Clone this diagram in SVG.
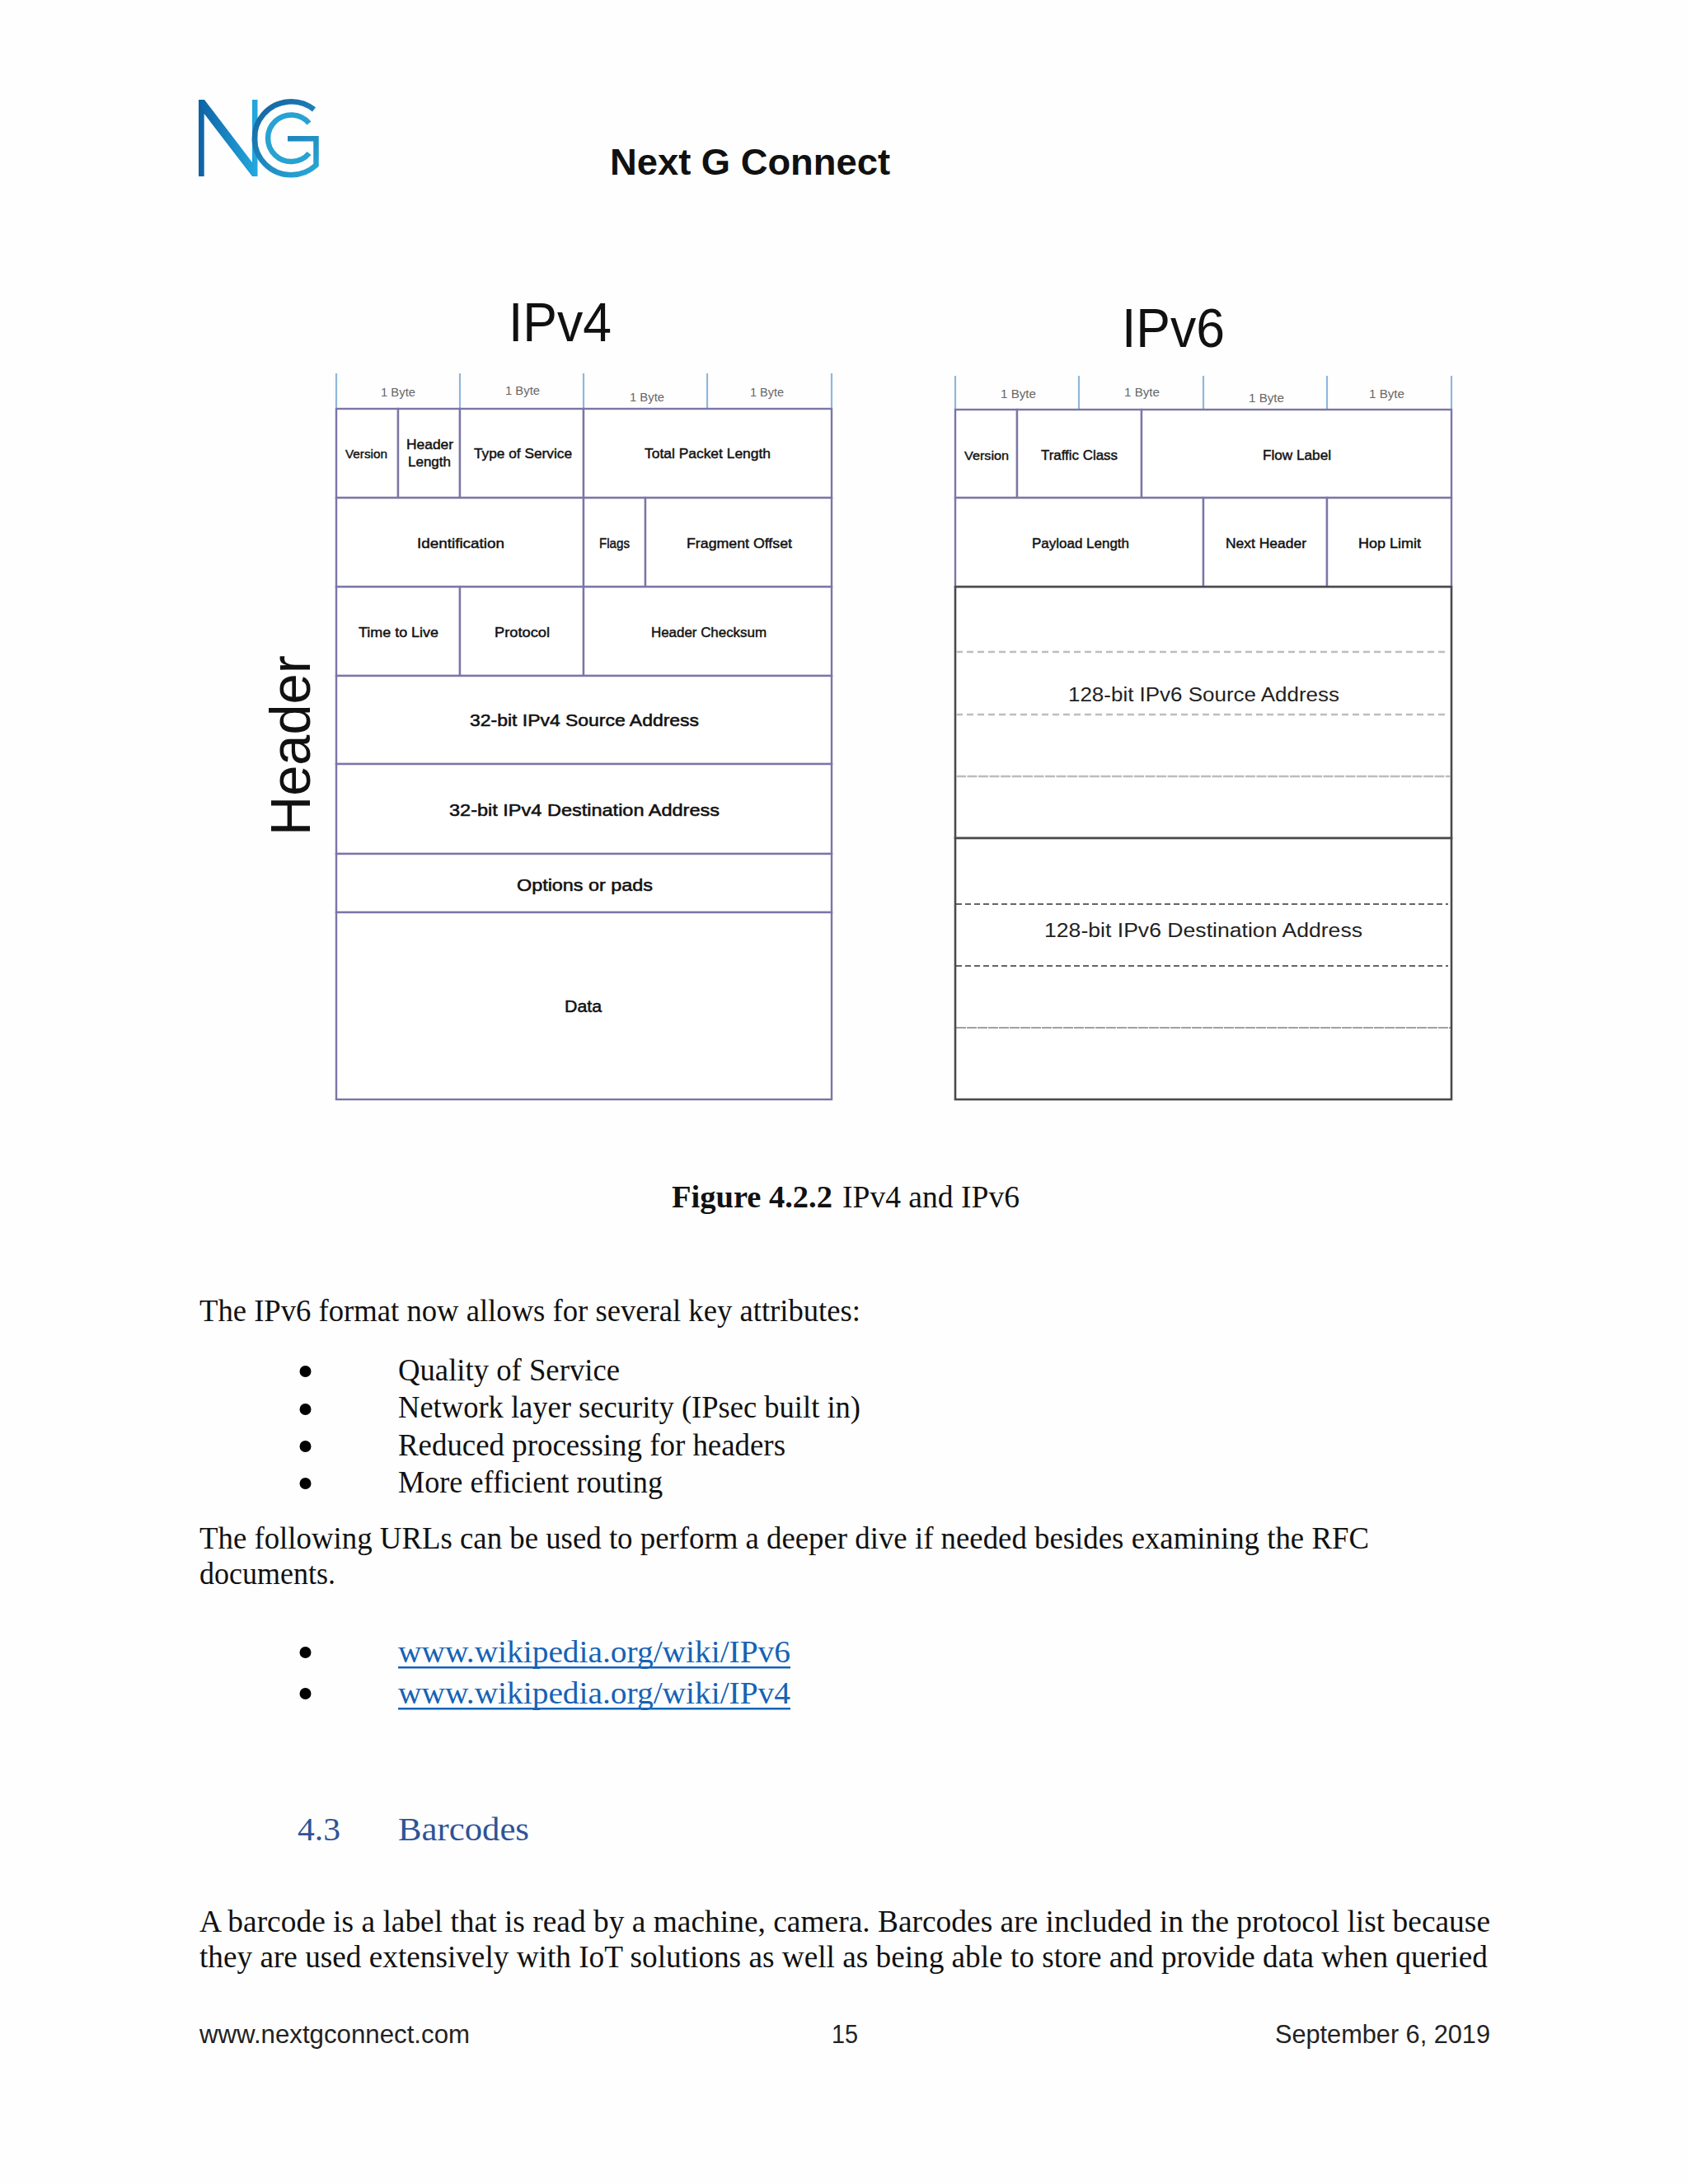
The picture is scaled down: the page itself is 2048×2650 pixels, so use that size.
<svg xmlns="http://www.w3.org/2000/svg" width="2048" height="2650" viewBox="0 0 2048 2650">
<style>
text{font-family:"Liberation Sans",Arial,sans-serif;fill:#111}
.t{font-family:"Liberation Serif","Times New Roman",serif;font-size:38px;fill:#111}
.f{font-size:32px;fill:#222}
.c{fill:#fff;stroke:#7a76a6;stroke-width:2.4}
.k{fill:#fff;stroke:#4a4a4e;stroke-width:2.6}
.l{font-size:17px;stroke:#111;stroke-width:.45}
.m{font-size:15px;stroke:#111;stroke-width:.4}
.a{font-size:21px;stroke:#111;stroke-width:.55}
.b{font-size:14px;fill:#666}
.by{stroke:#8fb7dc;stroke-width:2.2;fill:none}
.h6{font-size:23px;fill:#222}
.n{fill:none;stroke-width:6.5}
</style>
<defs>
<linearGradient id="gn" gradientUnits="userSpaceOnUse" x1="241" y1="0" x2="312" y2="0"><stop offset="0" stop-color="#0f62a3"/><stop offset="1" stop-color="#22a9e0"/></linearGradient>
<linearGradient id="gc" gradientUnits="userSpaceOnUse" x1="310" y1="120" x2="385" y2="215"><stop offset="0" stop-color="#12609f"/><stop offset="1" stop-color="#29a9d8"/></linearGradient>
</defs>
<rect width="2048" height="2650" fill="#fefefe"/>
<g id="logo">
<path d="M241 121H248L306 197V121H312.500V214H306L247.700 138V214H241Z" fill="url(#gn)"/>
<path class="n" stroke="url(#gc)" d="M381 132.900A44.500 44.500 0 1 0 383.500 200.400V168.300H349"/>
<path class="n" stroke="#27a2d2" d="M375 149.500A28.300 28.300 0 1 0 375 186"/>
</g>
<text id="page-title" x="740" y="212" font-size="44" font-weight="700" textLength="340" lengthAdjust="spacingAndGlyphs">Next G Connect</text>
<text id="title-ipv4" x="617" y="414" font-size="66" textLength="125" lengthAdjust="spacingAndGlyphs">IPv4</text>
<text id="title-ipv6" x="1361" y="421" font-size="66" textLength="125" lengthAdjust="spacingAndGlyphs">IPv6</text>
<text id="side-header" transform="translate(376 1014) rotate(-90)" font-size="68" textLength="219" lengthAdjust="spacingAndGlyphs">Header</text>

<g id="ipv4-bytes">
<path class="by" d="M408 453V496M558 453V496M708 453V496M858 453V496M1009 453V496"/>
<text class="b" x="462" y="481" textLength="42" lengthAdjust="spacingAndGlyphs">1 Byte</text>
<text class="b" x="613" y="479" textLength="42" lengthAdjust="spacingAndGlyphs">1 Byte</text>
<text class="b" x="764" y="487" textLength="42" lengthAdjust="spacingAndGlyphs">1 Byte</text>
<text class="b" x="910" y="481" textLength="41" lengthAdjust="spacingAndGlyphs">1 Byte</text>
</g>
<g id="ipv4-version"><rect class="c" x="408" y="496" width="75" height="108"/><text class="m" x="419" y="556" textLength="51" lengthAdjust="spacingAndGlyphs">Version</text></g>
<g id="ipv4-header-length"><rect class="c" x="483" y="496" width="75" height="108"/><text class="l" x="493" y="545" textLength="57" lengthAdjust="spacingAndGlyphs">Header</text><text class="l" x="495" y="566" textLength="52" lengthAdjust="spacingAndGlyphs">Length</text></g>
<g id="ipv4-tos"><rect class="c" x="558" y="496" width="150" height="108"/><text class="l" x="575" y="556" textLength="119" lengthAdjust="spacingAndGlyphs">Type of Service</text></g>
<g id="ipv4-total-length"><rect class="c" x="708" y="496" width="301" height="108"/><text class="l" x="782" y="556" textLength="153" lengthAdjust="spacingAndGlyphs">Total Packet Length</text></g>
<g id="ipv4-identification"><rect class="c" x="408" y="604" width="300" height="108"/><text class="l" x="506" y="665" textLength="106" lengthAdjust="spacingAndGlyphs">Identification</text></g>
<g id="ipv4-flags"><rect class="c" x="708" y="604" width="75" height="108"/><text class="l" x="727" y="665" textLength="37" lengthAdjust="spacingAndGlyphs">Flags</text></g>
<g id="ipv4-fragment"><rect class="c" x="783" y="604" width="226" height="108"/><text class="l" x="833" y="665" textLength="128" lengthAdjust="spacingAndGlyphs">Fragment Offset</text></g>
<g id="ipv4-ttl"><rect class="c" x="408" y="712" width="150" height="108"/><text class="l" x="435" y="773" textLength="97" lengthAdjust="spacingAndGlyphs">Time to Live</text></g>
<g id="ipv4-protocol"><rect class="c" x="558" y="712" width="150" height="108"/><text class="l" x="600" y="773" textLength="67" lengthAdjust="spacingAndGlyphs">Protocol</text></g>
<g id="ipv4-checksum"><rect class="c" x="708" y="712" width="301" height="108"/><text class="l" x="790" y="773" textLength="140" lengthAdjust="spacingAndGlyphs">Header Checksum</text></g>
<g id="ipv4-source"><rect class="c" x="408" y="820" width="601" height="107"/><text class="a" x="570" y="881" textLength="278" lengthAdjust="spacingAndGlyphs">32-bit IPv4 Source Address</text></g>
<g id="ipv4-destination"><rect class="c" x="408" y="927" width="601" height="109"/><text class="a" x="545" y="990" textLength="328" lengthAdjust="spacingAndGlyphs">32-bit IPv4 Destination Address</text></g>
<g id="ipv4-options"><rect class="c" x="408" y="1036" width="601" height="71"/><text class="a" x="627" y="1081" textLength="165" lengthAdjust="spacingAndGlyphs">Options or pads</text></g>
<g id="ipv4-data"><rect class="c" x="408" y="1107" width="601" height="227"/><text class="a" x="685" y="1228" textLength="45" lengthAdjust="spacingAndGlyphs">Data</text></g>

<g id="ipv6-bytes">
<path class="by" d="M1159 456V497M1309 456V497M1460 456V497M1610 456V497M1761 456V497"/>
<text class="b" x="1214" y="483" textLength="43" lengthAdjust="spacingAndGlyphs">1 Byte</text>
<text class="b" x="1364" y="481" textLength="43" lengthAdjust="spacingAndGlyphs">1 Byte</text>
<text class="b" x="1515" y="488" textLength="43" lengthAdjust="spacingAndGlyphs">1 Byte</text>
<text class="b" x="1661" y="483" textLength="43" lengthAdjust="spacingAndGlyphs">1 Byte</text>
</g>
<g id="ipv6-version"><rect class="c" x="1159" y="497" width="75" height="107"/><text class="m" x="1170" y="558" textLength="54" lengthAdjust="spacingAndGlyphs">Version</text></g>
<g id="ipv6-traffic"><rect class="c" x="1234" y="497" width="151" height="107"/><text class="l" x="1263" y="558" textLength="93" lengthAdjust="spacingAndGlyphs">Traffic Class</text></g>
<g id="ipv6-flow"><rect class="c" x="1385" y="497" width="376" height="107"/><text class="l" x="1532" y="558" textLength="83" lengthAdjust="spacingAndGlyphs">Flow Label</text></g>
<g id="ipv6-payload"><rect class="c" x="1159" y="604" width="301" height="108"/><text class="l" x="1252" y="665" textLength="118" lengthAdjust="spacingAndGlyphs">Payload Length</text></g>
<g id="ipv6-next"><rect class="c" x="1460" y="604" width="150" height="108"/><text class="l" x="1487" y="665" textLength="98" lengthAdjust="spacingAndGlyphs">Next Header</text></g>
<g id="ipv6-hop"><rect class="c" x="1610" y="604" width="151" height="108"/><text class="l" x="1648" y="665" textLength="76" lengthAdjust="spacingAndGlyphs">Hop Limit</text></g>
<g id="ipv6-source">
<rect class="k" x="1159" y="712" width="602" height="305"/>
<path d="M1160 791H1757M1160 867H1757" stroke="#bdbdbd" stroke-width="2.4" stroke-dasharray="8 5" fill="none"/>
<path d="M1160 942H1760" stroke="#bdbdbd" stroke-width="2.6" stroke-dasharray="12 1.500" fill="none"/>
<text class="h6" x="1296" y="851" textLength="329" lengthAdjust="spacingAndGlyphs">128-bit IPv6 Source Address</text>
</g>
<g id="ipv6-destination">
<rect class="k" x="1159" y="1017" width="602" height="317"/>
<path d="M1160 1097H1757M1160 1172H1757" stroke="#333" stroke-width="1.400" stroke-dasharray="7 4" fill="none"/>
<path d="M1160 1247H1760" stroke="#444" stroke-width="1.200" stroke-dasharray="12 1" fill="none"/>
<text class="h6" x="1267" y="1137" textLength="386" lengthAdjust="spacingAndGlyphs">128-bit IPv6 Destination Address</text>
</g>

<g id="body-text">
<text class="t" x="815" y="1465" font-weight="700" style="font-size:37px" textLength="195" lengthAdjust="spacingAndGlyphs">Figure 4.2.2</text>
<text class="t" x="1022" y="1465" style="font-size:37px" textLength="215" lengthAdjust="spacingAndGlyphs">IPv4 and IPv6</text>
<text class="t" x="242" y="1603" textLength="802" lengthAdjust="spacingAndGlyphs">The IPv6 format now allows for several key attributes:</text>
<circle cx="370.500" cy="1664" r="7"/><circle cx="370.500" cy="1710" r="7"/><circle cx="370.500" cy="1755" r="7"/><circle cx="370.500" cy="1800" r="7"/>
<text class="t" x="483" y="1675" textLength="269" lengthAdjust="spacingAndGlyphs">Quality of Service</text>
<text class="t" x="483" y="1720" textLength="561" lengthAdjust="spacingAndGlyphs">Network layer security (IPsec built in)</text>
<text class="t" x="483" y="1766" textLength="470" lengthAdjust="spacingAndGlyphs">Reduced processing for headers</text>
<text class="t" x="483" y="1811" textLength="321" lengthAdjust="spacingAndGlyphs">More efficient routing</text>
<text class="t" x="242" y="1879" textLength="1419" lengthAdjust="spacingAndGlyphs">The following URLs can be used to perform a deeper dive if needed besides examining the RFC</text>
<text class="t" x="242" y="1922" textLength="165" lengthAdjust="spacingAndGlyphs">documents.</text>
<circle cx="370.500" cy="2005" r="7"/><circle cx="370.500" cy="2055" r="7"/>
<text class="t" x="483" y="2017" style="fill:#1563b5" textLength="476" lengthAdjust="spacingAndGlyphs">www.wikipedia.org/wiki/IPv6</text>
<rect x="483" y="2022" width="476" height="2.500" fill="#1563b5"/>
<text class="t" x="483" y="2067" style="fill:#1563b5" textLength="476" lengthAdjust="spacingAndGlyphs">www.wikipedia.org/wiki/IPv4</text>
<rect x="483" y="2072" width="476" height="2.500" fill="#1563b5"/>
<text class="t" x="361" y="2233" style="fill:#2f5496;font-size:40px" textLength="52" lengthAdjust="spacingAndGlyphs">4.3</text>
<text class="t" x="483" y="2233" style="fill:#2f5496;font-size:40px" textLength="159" lengthAdjust="spacingAndGlyphs">Barcodes</text>
<text class="t" x="242" y="2344" textLength="1566" lengthAdjust="spacingAndGlyphs">A barcode is a label that is read by a machine, camera.  Barcodes are included in the protocol list because</text>
<text class="t" x="242" y="2387" textLength="1563" lengthAdjust="spacingAndGlyphs">they are used extensively with IoT solutions as well as being able to store and provide data when queried</text>
</g>
<g id="footer">
<text class="f" x="242" y="2479" textLength="328" lengthAdjust="spacingAndGlyphs">www.nextgconnect.com</text>
<text class="f" x="1009" y="2479" textLength="32" lengthAdjust="spacingAndGlyphs">15</text>
<text class="f" x="1547" y="2479" textLength="261" lengthAdjust="spacingAndGlyphs">September 6, 2019</text>
</g>
</svg>
